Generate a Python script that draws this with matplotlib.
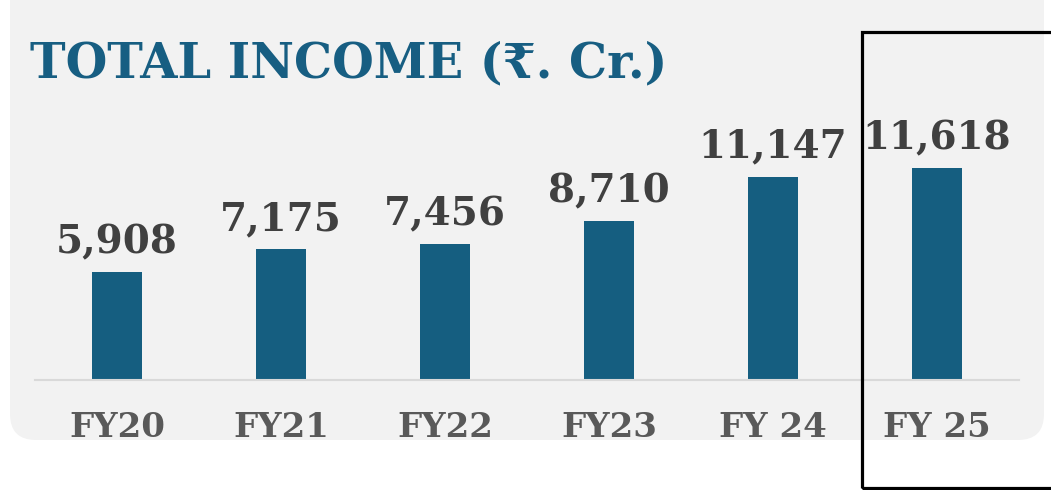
import matplotlib
matplotlib.use('Agg')
import matplotlib.pyplot as plt
from matplotlib.patches import FancyBboxPatch, Rectangle
from matplotlib.transforms import IdentityTransform

years = ['FY20', 'FY21', 'FY22', 'FY23', 'FY 24', 'FY 25']
income = [5908, 7175, 7456, 8710, 11147, 11618]
labels = ['5,908', '7,175', '7,456', '8,710', '11,147', '11,618']

W, H = 1051, 490
fig = plt.figure(figsize=(W / 100, H / 100), dpi=100)
fig.patch.set_facecolor('white')

# grey rounded panel (pixel coords)
panel = FancyBboxPatch((10, 50), 1034, 470, boxstyle='round,pad=0,rounding_size=26',
                       transform=IdentityTransform(), facecolor='#f2f2f2',
                       edgecolor='none', zorder=-5)
fig.patches.append(panel)

ax = fig.add_axes([35 / W, (H - 380) / H, 984 / W, 280 / H])
ax.set_facecolor('none')
x = range(len(years))
ax.bar(x, income, width=0.31, color='#155e80', zorder=2)
ax.set_xlim(-0.5, 5.5)
ax.set_ylim(0, 280 / 212 * 11618)

for i, (v, t) in enumerate(zip(income, labels)):
    ax.annotate(t, (i, v), xytext=(0, 13.5), textcoords='offset points',
                ha='center', va='baseline', fontsize=28, fontweight='bold',
                family='DejaVu Serif', color='#404040')

for s in ['top', 'left', 'right']:
    ax.spines[s].set_visible(False)
ax.spines['bottom'].set_color('#d9d9d9')
ax.spines['bottom'].set_linewidth(1.5)
ax.set_yticks([])
ax.set_xticks(list(x))
ax.set_xticklabels(years, fontsize=24.5, fontweight='bold', family='DejaVu Serif',
                   color='#595959')
ax.tick_params(axis='x', length=0, pad=22)

fig.text(30 / W, (H - 77) / H, 'TOTAL INCOME (₹. Cr.)', ha='left', va='baseline',
         fontsize=34.5, fontweight='bold', family=['DejaVu Serif', 'DejaVu Sans'],
         color='#175e82')

# highlight box around FY 25
box = Rectangle((862, 2), 220, 456, transform=IdentityTransform(), fill=False,
                edgecolor='black', linewidth=2.3, zorder=5)
fig.patches.append(box)

fig.savefig('out.png', dpi=100)
